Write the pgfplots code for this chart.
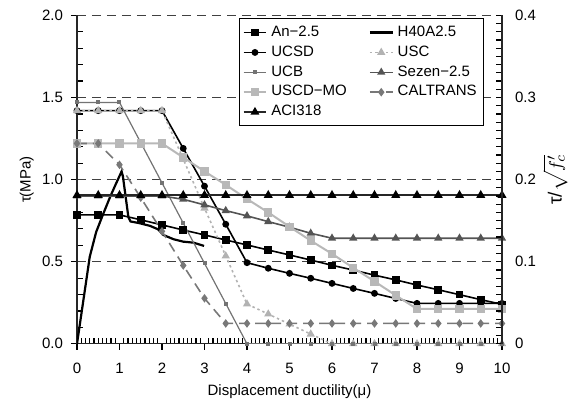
\documentclass[border=0pt]{standalone}
\usepackage{fontspec}
\setmainfont{Liberation Sans}
\usepackage{pgfplots}
\pgfplotsset{compat=1.18}
\definecolor{cUSC}{gray}{0.70}
\definecolor{cUCB}{gray}{0.45}
\definecolor{cSez}{gray}{0.33}
\definecolor{cMO}{gray}{0.72}
\definecolor{cCal}{gray}{0.47}
\definecolor{cGrid}{gray}{0.25}
\begin{document}
\begin{tikzpicture}[font=\fontsize{7.5}{9}\selectfont]
\path (-38.5pt,-30.7pt) rectangle (245.5pt,171.9pt);
\begin{axis}[
  scale only axis, width=212.5pt, height=164.2pt,
  xmin=0, xmax=10, ymin=0, ymax=2,
  axis x line*=bottom, axis y line*=left,
  axis line style={-, black!85, line width=0.6pt},
  xtick={0,1,...,10}, minor x tick num=9,
  ytick={0,0.5,1,1.5,2}, yticklabels={0.0,0.5,1.0,1.5,2.0}, minor y tick num=4,
  /pgf/number format/assume math mode=true,
  tick align=inside,
  major tick length=3pt, minor tick length=3pt,
  tick style={black, line width=0.6pt},
  minor tick style={black, line width=0.6pt},
  major x tick style={yshift=-3pt},
  major y tick style={xshift=-3pt},
  xticklabel style={yshift=-6pt},
  yticklabel style={xshift=-3.5pt},
  ymajorgrids, major grid style={cGrid, line width=0.5pt, dash pattern=on 4.5pt off 3pt},
  xlabel={Displacement ductility(μ)},
  ylabel={τ(MPa)},
  every axis x label/.style={at={(axis description cs:0.5,-0.146)}, anchor=center},
  every axis y label/.style={at={(axis description cs:-0.118,0.5)}, anchor=center, rotate=90},
  legend columns=2, legend cell align=left,
  legend style={at={(0.958,0.991)}, anchor=north east, draw=black, line width=0.5pt, fill=white,
    font=\fontsize{7.5}{9}\selectfont, inner sep=1.5pt, row sep=-0.8pt,
    /tikz/every even column/.append style={column sep=9pt}},
  legend image code/.code={\draw[mark repeat=2,mark phase=2] plot coordinates {(0cm,0cm) (0.2cm,0cm) (0.4cm,0cm)};},
]
% An-2.5
\addplot[black, line width=0.8pt, mark=square*, mark size=1.5pt, mark options={solid}] coordinates {
(0,0.785) (0.5,0.785) (1,0.785) (1.5,0.755) (2,0.724) (2.5,0.693) (3,0.663) (3.5,0.632) (4,0.602) (4.5,0.571) (5,0.541) (5.5,0.51) (6,0.478) (6.5,0.449) (7,0.418) (7.5,0.389) (8,0.358) (8.5,0.329) (9,0.299) (9.5,0.269) (10,0.24)};
\addlegendentry{An−2.5}
% H40A2.5
\addplot[black, line width=1.1pt, no marks] coordinates {
(0,0) (0.3,0.53) (0.45,0.68) (0.6,0.78) (0.78,0.895) (0.9,0.965) (1.05,1.05) (1.08,1.02) (1.21,0.77) (1.26,0.745) (1.48,0.734) (1.72,0.718) (1.91,0.697) (2.03,0.663) (2.27,0.637) (2.5,0.622) (2.74,0.616) (2.99,0.596)};
\addlegendentry{H40A2.5}
% UCSD
\addplot[black, line width=0.8pt, mark=*, mark size=1.3pt, mark options={solid}] coordinates {
(0,1.42) (0.5,1.42) (1,1.42) (1.5,1.42) (2,1.42) (2.5,1.19) (3,0.96) (3.5,0.728) (4,0.494) (4.5,0.46) (5,0.429) (5.5,0.399) (6,0.368) (6.5,0.337) (7,0.307) (7.5,0.276) (8,0.246) (8.5,0.246) (9,0.246) (9.5,0.246) (10,0.246)};
\addlegendentry{UCSD}
% USC
\addplot[cUSC, line width=0.8pt, dash pattern=on 1.2pt off 1.5pt, mark=triangle*, mark size=1.6pt, mark options={solid}] coordinates {
(0,1.42) (0.5,1.42) (1,1.42) (1.5,1.42) (2,1.42) (2.5,1.125) (3,0.826) (3.5,0.535) (4,0.242) (4.5,0.181) (5,0.12) (5.5,0.059) (6,0) (6.5,0) (7,0) (7.5,0) (8,0) (8.5,0) (9,0) (9.5,0) (10,0)};
\addlegendentry{USC}
% UCB
\addplot[cUCB, line width=0.6pt, mark=square*, mark size=0.7pt, mark options={solid}] coordinates {
(0,1.47) (0.5,1.47) (1,1.47) (1.5,1.225) (2,0.98) (2.5,0.735) (3,0.49) (3.5,0.245) (4,0) (4.5,0) (5,0) (5.5,0) (6,0) (6.5,0) (7,0) (7.5,0) (8,0) (8.5,0) (9,0) (9.5,0) (10,0)};
\addlegendentry{UCB}
% Sezen-2.5
\addplot[cSez, line width=0.8pt, mark=triangle*, mark size=1.6pt, mark options={solid}] coordinates {
(0,0.9) (0.5,0.9) (1,0.9) (1.5,0.9) (2,0.9) (2.5,0.88) (3,0.846) (3.5,0.811) (4,0.779) (4.5,0.744) (5,0.71) (5.5,0.673) (6,0.643) (6.5,0.643) (7,0.643) (7.5,0.643) (8,0.643) (8.5,0.643) (9,0.643) (9.5,0.643) (10,0.643)};
\addlegendentry{Sezen−2.5}
% USCD-MO
\addplot[cMO, line width=1pt, mark=square*, mark size=1.6pt, mark options={solid}] coordinates {
(0,1.22) (0.5,1.22) (1,1.22) (1.5,1.22) (2,1.22) (2.5,1.135) (3,1.05) (3.5,0.968) (4,0.882) (4.5,0.8) (5,0.713) (5.5,0.628) (6,0.548) (6.5,0.463) (7,0.38) (7.5,0.295) (8,0.212) (8.5,0.212) (9,0.212) (9.5,0.212) (10,0.212)};
\addlegendentry{USCD−MO}
% CALTRANS
\addplot[cCal, line width=0.8pt, dash pattern=on 5pt off 3pt, mark=diamond*, mark size=1.5pt, mark options={solid}] coordinates {
(0,1.22) (0.5,1.22) (1,1.09) (1.5,0.89) (2,0.685) (2.5,0.477) (3,0.277) (3.5,0.124) (4,0.124) (4.5,0.124) (5,0.124) (5.5,0.124) (6,0.124) (6.5,0.124) (7,0.124) (7.5,0.124) (8,0.124) (8.5,0.124) (9,0.124) (9.5,0.124) (10,0.124)};
\addlegendentry{CALTRANS}
% ACI318
\addplot[black!85, line width=1pt, mark=triangle*, mark size=1.6pt, mark options={solid, fill=black, draw=black}] coordinates {
(0,0.905) (0.5,0.905) (1,0.905) (1.5,0.905) (2,0.905) (2.5,0.905) (3,0.905) (3.5,0.905) (4,0.905) (4.5,0.905) (5,0.905) (5.5,0.905) (6,0.905) (6.5,0.905) (7,0.905) (7.5,0.905) (8,0.905) (8.5,0.905) (9,0.905) (9.5,0.905) (10,0.905)};
\addlegendentry{ACI318}
\end{axis}
\begin{axis}[
  scale only axis, width=212.5pt, height=164.2pt,
  xmin=0, xmax=10, ymin=0, ymax=0.4,
  axis x line=none, axis y line*=right,
  axis line style={-, black!85, line width=0.6pt},
  ytick={0,0.1,0.2,0.3,0.4}, yticklabels={0,0.1,0.2,0.3,0.4}, minor y tick num=9,
  /pgf/number format/assume math mode=true,
  tick align=inside, major tick length=3pt, minor tick length=3pt,
  tick style={black, line width=0.6pt},
  minor tick style={black, line width=0.6pt},
  yticklabel style={xshift=3pt},
  ylabel={\fontsize{9.5}{10}\selectfont τ/$\sqrt{f'_{c}}$},
  every axis y label/.style={at={(axis description cs:1.125,0.5)}, anchor=center, rotate=90, inner sep=0pt},
]
\addplot[draw=none, no marks] coordinates {(0,0) (10,0.4)};
\end{axis}
\end{tikzpicture}
\end{document}
